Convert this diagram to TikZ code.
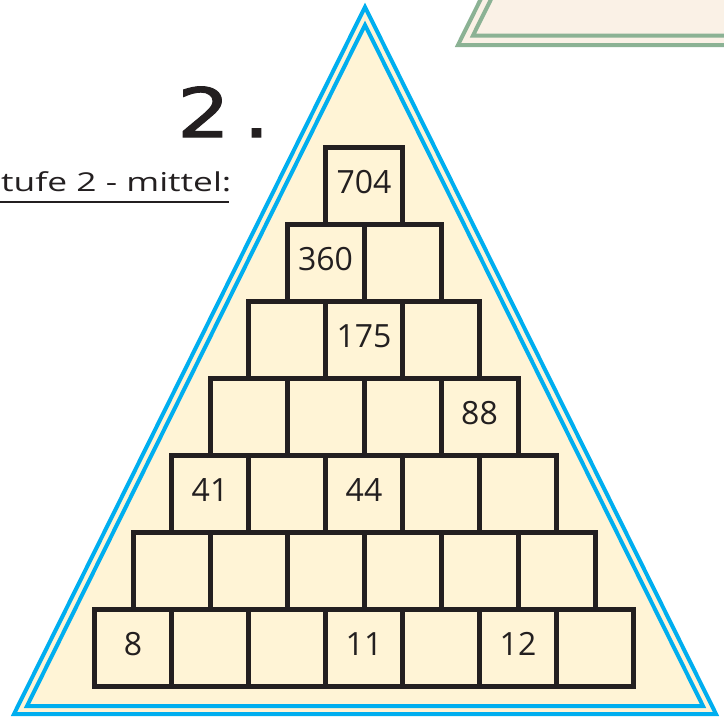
\documentclass[tikz,border=0pt]{standalone}
\usepackage{fontspec}
\setmainfont{Open Sans}
\newfontfamily\titlefont[FakeBold=1.5]{DejaVu Sans}
\definecolor{tblue}{RGB}{0,174,239}
\definecolor{tcream}{RGB}{255,244,214}
\definecolor{tgreen}{RGB}{139,178,148}
\definecolor{gcream}{RGB}{250,241,230}
\definecolor{ink}{RGB}{35,31,32}
\begin{document}
\begin{tikzpicture}[x=1pt,y=-1pt,
  cell/.style={draw=ink,line width=5pt,minimum size=77pt,inner sep=0pt,
    text depth=8pt,font=\fontsize{32}{32}\selectfont,text=ink},
  frame/.style={line width=4pt,line join=miter}]
\useasboundingbox (0,0) rectangle (724,718);
% green partial triangle at top right
\begin{scope}
\clip (0,0) rectangle (724,718);
\fill[gcream] (458,45) -- (740,45) -- (740,-40) -- (500.2,-40) -- cycle;
\draw[frame,tgreen] (500.2,-40) -- (458,45) -- (740,45);
\draw[frame,tgreen] (510.5,-40) -- (473,35.5) -- (740,35.5);
\end{scope}
% blue pyramid
\draw[frame,tblue,fill=tcream] (365,7) -- (14,714) -- (716,714) -- cycle;
\draw[frame,tblue] (365,25) -- (27,706) -- (703,706) -- cycle;
% title and level
\node[font=\titlefont\fontsize{68}{68}\selectfont,anchor=base west,inner sep=0pt,text=ink] (title) at (177,137) {\scalebox{1.22}[1]{2\kern11pt.}};
\node[font=\fontsize{26}{26}\selectfont,anchor=base west,inner sep=0pt,text=ink] (level) at (1,191) {\scalebox{1.36}[1]{tufe 2 - mittel:}};
\draw[ink,line width=1.8pt] (0,202) -- (229,202);
% boxes
\foreach \r/\i/\t in {1/0/704,
  2/0/360, 2/1/{},
  3/0/{}, 3/1/175, 3/2/{},
  4/0/{}, 4/1/{}, 4/2/{}, 4/3/88,
  5/0/41, 5/1/{}, 5/2/44, 5/3/{}, 5/4/{},
  6/0/{}, 6/1/{}, 6/2/{}, 6/3/{}, 6/4/{}, 6/5/{},
  7/0/8, 7/1/{}, 7/2/{}, 7/3/11, 7/4/{}, 7/5/12, 7/6/{}}
  \node[cell] (b\r\i) at ({364+(\i-(\r-1)/2)*77},{147.5+(\r-0.5)*77}) {\t};
\end{tikzpicture}
\end{document}
